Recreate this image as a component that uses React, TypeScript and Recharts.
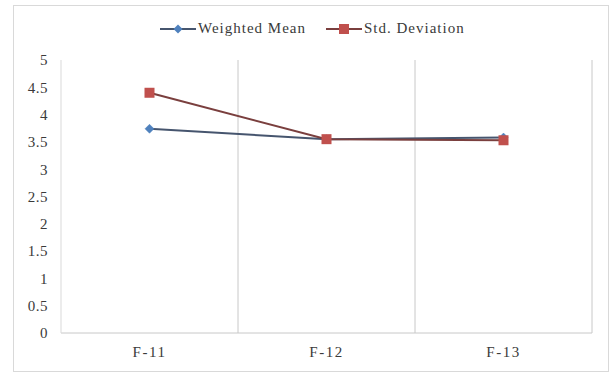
import React from "react";
import {
  LineChart,
  Line,
  XAxis,
  YAxis,
  ReferenceLine,
} from "recharts";

// Categories and series values
const categories = ["F-11", "F-12", "F-13"];
const weightedMean = [3.74, 3.55, 3.58];
const stdDeviation = [4.4, 3.55, 3.53];
const yTicks = [0, 0.5, 1, 1.5, 2, 2.5, 3, 3.5, 4, 4.5, 5];
const seriesNames = ["Weighted Mean", "Std. Deviation"];

// Each category sits in the middle of its own unit-wide slot
const data = categories.map((cat, i) => ({
  pos: i + 0.5,
  cat,
  wm: weightedMean[i],
  sd: stdDeviation[i],
}));
const catTicks = categories.map((_, i) => i + 0.5);
const slotEdges = categories.map((_, i) => i + 1);

const FONT = "'Liberation Serif', 'Times New Roman', serif";
const TEXT = "#3a3a3a";
const BLUE = "#4f81bd";
const RED = "#c0504d";
const BLUE_LINE = "#46556e";
const RED_LINE = "#7a3f3e";

const Diamond = (props: any) => {
  const { cx, cy } = props;
  if (cx == null || cy == null) return null;
  const r = 4.5;
  return (
    <polygon
      points={`${cx},${cy - r} ${cx + r},${cy} ${cx},${cy + r} ${cx - r},${cy}`}
      fill={BLUE}
      stroke={BLUE}
      strokeWidth={0.5}
    />
  );
};

const Square = (props: any) => {
  const { cx, cy } = props;
  if (cx == null || cy == null) return null;
  const s = 10;
  return <rect x={cx - s / 2} y={cy - s / 2} width={s} height={s} fill={RED} />;
};

const LegendItem = ({
  name,
  line,
  kind,
  gap,
}: {
  name: string;
  line: string;
  kind: "d" | "s";
  gap: number;
}) => (
  <span style={{ display: "inline-flex", alignItems: "center", marginRight: gap }}>
    <svg width={36} height={12} style={{ marginRight: 2 }}>
      <line x1={0} y1={6} x2={36} y2={6} stroke={line} strokeWidth={2} />
      {kind === "d" ? (
        <polygon points="18,1.5 22.5,6 18,10.5 13.5,6" fill={BLUE} />
      ) : (
        <rect x={13} y={1} width={10} height={10} fill={RED} />
      )}
    </svg>
    <span>{name}</span>
  </span>
);

export default function App() {
  return (
    <div style={{ position: "absolute", left: 0, top: 0, width: 611, height: 374, background: "#fff" }}>
      <div
        style={{
          position: "absolute",
          left: 13,
          top: 5,
          width: 594,
          height: 365,
          border: "1px solid #d9d9d9",
        }}
      />
      <div
        style={{
          position: "absolute",
          left: 160,
          top: 20,
          fontFamily: FONT,
          fontSize: 15,
          letterSpacing: 1,
          color: TEXT,
          whiteSpace: "nowrap",
          display: "flex",
          alignItems: "center",
        }}
      >
        <LegendItem name={seriesNames[0]} line={BLUE_LINE} kind="d" gap={20} />
        <LegendItem name={seriesNames[1]} line={RED_LINE} kind="s" gap={0} />
      </div>
      <div style={{ position: "absolute", left: 0, top: 0 }}>
        <LineChart
          width={611}
          height={374}
          data={data}
          margin={{ top: 60, right: 19, bottom: 11, left: 0 }}
        >
          <XAxis
            dataKey="pos"
            type="number"
            domain={[0, categories.length]}
            ticks={catTicks}
            interval={0}
            tickFormatter={(v: number) => categories[Math.floor(v)]}
            height={30}
            axisLine={{ stroke: "#c8c8c8" }}
            tickLine={false}
            tickMargin={7}
            tick={{ fill: TEXT, fontFamily: FONT, fontSize: 15, letterSpacing: 1.5 }}
          />
          <YAxis
            width={61}
            domain={[0, 5]}
            ticks={yTicks}
            interval={0}
            axisLine={{ stroke: "#d9d9d9" }}
            tickLine={false}
            tickMargin={7}
            tick={{ fill: TEXT, fontFamily: FONT, fontSize: 15, letterSpacing: 0.5 }}
          />
          {slotEdges.map((x) => (
            <ReferenceLine key={x} x={x} stroke="#c8c8c8" strokeWidth={1} />
          ))}
          <Line
            dataKey="wm"
            name={seriesNames[0]}
            stroke={BLUE_LINE}
            strokeWidth={2}
            dot={<Diamond />}
            activeDot={false}
            isAnimationActive={false}
          />
          <Line
            dataKey="sd"
            name={seriesNames[1]}
            stroke={RED_LINE}
            strokeWidth={2}
            dot={<Square />}
            activeDot={false}
            isAnimationActive={false}
          />
        </LineChart>
      </div>
    </div>
  );
}
